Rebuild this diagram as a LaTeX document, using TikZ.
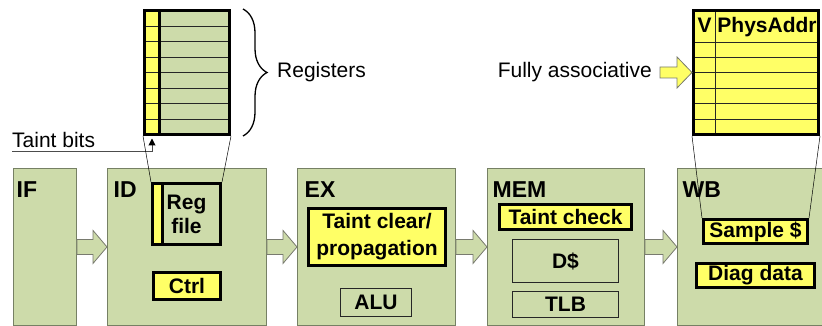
\documentclass[tikz,border=0pt]{standalone}
\usepackage{fontspec}
\setmainfont{Liberation Sans}
\usetikzlibrary{calc,decorations.pathreplacing,arrows.meta}

\definecolor{stagegreen}{RGB}{205,219,170}
\definecolor{hiyellow}{RGB}{255,255,102}
\definecolor{stageedge}{RGB}{118,128,100}
\definecolor{arrowedge}{RGB}{120,122,110}

\newcommand\basefont{\fontsize{21}{24}\selectfont}
\newcommand\stagefont{\fontsize{23}{26}\selectfont}

\tikzset{
  stage/.style={draw=stageedge, line width=0.9pt, fill=stagegreen, anchor=north west, inner sep=0pt},
  stagelabel/.style={anchor=base west, inner sep=0pt, font=\stagefont\bfseries},
  hibox/.style={draw=black, line width=3pt, fill=hiyellow, inner sep=0pt, font=\basefont\bfseries, align=center},
  plainbox/.style={draw=black!85, line width=1pt, fill=stagegreen, inner sep=0pt, font=\basefont\bfseries, align=center},
  blockarrow/.style={draw=arrowedge, line width=0.8pt, fill=stagegreen},
  yellowarrow/.style={draw=arrowedge, line width=0.8pt, fill=hiyellow},
  rowline/.style={draw=black!85, line width=0.9pt},
  projline/.style={draw=black, line width=0.5pt},
  plaintext/.style={inner sep=0pt, font=\basefont},
}

% block arrow between two pipeline stages: tail on #1, tip on #2
\newcommand\stagearrow[2]{%
  \draw[blockarrow]
    ([yshift=7.5pt]#1.east) -- ([xshift=-14pt,yshift=7.5pt]#2.west)
    -- ([xshift=-14pt,yshift=16.5pt]#2.west) -- (#2.west)
    -- ([xshift=-14pt,yshift=-16.5pt]#2.west) -- ([xshift=-14pt,yshift=-7.5pt]#2.west)
    -- ([yshift=-7.5pt]#1.east) -- cycle;}

\begin{document}
\begin{tikzpicture}[x=1pt,y=-1pt]
\useasboundingbox (0,0) rectangle (822,326);

% ---------- pipeline stages ----------
\node[stage, minimum width=63pt,  minimum height=157pt] (IF)  at (13,168)  {};
\node[stage, minimum width=159pt, minimum height=157pt] (ID)  at (107,168) {};
\node[stage, minimum width=158pt, minimum height=157pt] (EX)  at (297,168) {};
\node[stage, minimum width=157pt, minimum height=157pt] (MEM) at (487,168) {};
\node[stage, minimum width=160pt, minimum height=157pt] (WB)  at (677,168) {};

\node[stagelabel] (IFl)  at (16.5,197)  {IF};
\node[stagelabel] (IDl)  at (113.5,197) {ID};
\node[stagelabel] (EXl)  at (304.5,197) {EX};
\node[stagelabel] (MEMl) at (492.5,197) {MEM};
\node[stagelabel] (WBl)  at (682.5,197) {WB};

\stagearrow{IF}{ID}
\stagearrow{ID}{EX}
\stagearrow{EX}{MEM}
\stagearrow{MEM}{WB}

% ---------- ID contents ----------
\node[plainbox, line width=3pt, draw=black, minimum width=68pt, minimum height=61pt,
      path picture={
        \coordinate (pnw) at (path picture bounding box.north west);
        \coordinate (pse) at (path picture bounding box.south east);
        \fill[hiyellow] (pnw) rectangle ($(pnw |- pse)+(9.5,0)$);
        \draw[line width=3pt] ($(pnw)+(9.5,0)$) -- ($(pnw |- pse)+(9.5,0)$);
      }] (regfile) at (186.5,214) {Reg\\file};
\node[hibox, minimum width=67pt, minimum height=27pt] (ctrl) at (187,285.5) {Ctrl};

% ---------- EX contents ----------
\node[hibox, minimum width=137pt, minimum height=57pt,
      font=\bfseries\fontsize{21}{27}\selectfont] (taintprop) at (377,237) {Taint clear/\\propagation};
\node[plainbox, minimum width=71pt, minimum height=28pt] (alu) at (376,302.5) {ALU};

% ---------- MEM contents ----------
\node[hibox, minimum width=132pt, minimum height=25pt] (tcheck) at (565.5,217) {Taint check};
\node[plainbox, minimum width=106pt, minimum height=43pt] (dcache) at (565.5,261) {D\$};
\node[plainbox, minimum width=106pt, minimum height=26pt] (tlb) at (565.5,304.5) {TLB};

% ---------- WB contents ----------
\node[hibox, minimum width=104pt, minimum height=24pt] (sample) at (755.5,231.5) {Sample \$};
\node[hibox, minimum width=118pt, minimum height=24pt] (diag) at (755.5,275.5) {Diag data};

% ---------- register file detail ----------
\node[draw=black, line width=3pt, fill=stagegreen, inner sep=0pt,
      minimum width=85pt, minimum height=124pt,
      path picture={
        \coordinate (pnw) at (path picture bounding box.north west);
        \coordinate (pse) at (path picture bounding box.south east);
        \fill[hiyellow] (pnw) rectangle ($(pnw |- pse)+(14.5,0)$);
        \foreach \i in {1,...,7}
          \draw[rowline] ($(pnw)!\i/8!(pnw |- pse)$) -- ($(pse |- pnw)!\i/8!(pse)$);
        \draw[line width=3pt] ($(pnw)+(14.5,0)$) -- ($(pnw |- pse)+(14.5,0)$);
      }] (regtop) at (187,72.5) {};

\draw[decorate, decoration={brace, amplitude=24pt, aspect=0.5}, line width=1.3pt]
  (243,9) -- (243,136);
\node[plaintext, anchor=base west] (reglabel) at (277,78) {Registers};

\coordinate (tbstart) at (12,152);
\node[plaintext, anchor=base west] (tblabel) at (12,147) {Taint bits};
\draw[draw=black!70, line width=1pt, -{Triangle[length=7pt,width=7pt,color=black]}]
  (tbstart) -| ([xshift=9pt,yshift=-2.5pt]regtop.south west);

\draw[projline] (regtop.south west) -- (regfile.north west);
\draw[projline] (regtop.south east) -- (regfile.north east);

% ---------- sample cache detail ----------
\node[draw=black, line width=3pt, fill=hiyellow, inner sep=0pt,
      minimum width=125pt, minimum height=124pt,
      path picture={
        \coordinate (pnw) at (path picture bounding box.north west);
        \coordinate (pse) at (path picture bounding box.south east);
        \coordinate (hl) at ($(pnw)+(0,31.5)$);
        \coordinate (hr) at ($(pse |- pnw)+(0,31.5)$);
        \draw[rowline] (hl) -- (hr);
        \foreach \i in {1,...,5}
          \draw[rowline] ($(hl)!\i/6!(hl |- pse)$) -- ($(hr)!\i/6!(pse)$);
        \draw[rowline] ($(pnw)+(21.5,0)$) -- ($(pnw |- pse)+(21.5,0)$);
      }] (cam) at (756,72.5) {};
\node[plaintext, anchor=base, font=\basefont\bfseries] (camv) at (704.5,33) {V};
\node[plaintext, anchor=base, font=\basefont\bfseries] (camaddr) at (767,33) {PhysAddr};

\node[plaintext, anchor=base east] (falabel) at (652,78) {Fully associative};
\draw[yellowarrow]
  ($([xshift=8pt]falabel.east |- cam.west)+(0,-5.5)$) -- ($(cam.west)+(-15,-5.5)$)
  -- ($(cam.west)+(-15,-15.5)$) -- (cam.west)
  -- ($(cam.west)+(-15,15.5)$) -- ($(cam.west)+(-15,5.5)$)
  -- ($([xshift=8pt]falabel.east |- cam.west)+(0,5.5)$) -- cycle;

\draw[projline] (cam.south west) -- (sample.north west);
\draw[projline] (cam.south east) -- (sample.north east);
\end{tikzpicture}
\end{document}
